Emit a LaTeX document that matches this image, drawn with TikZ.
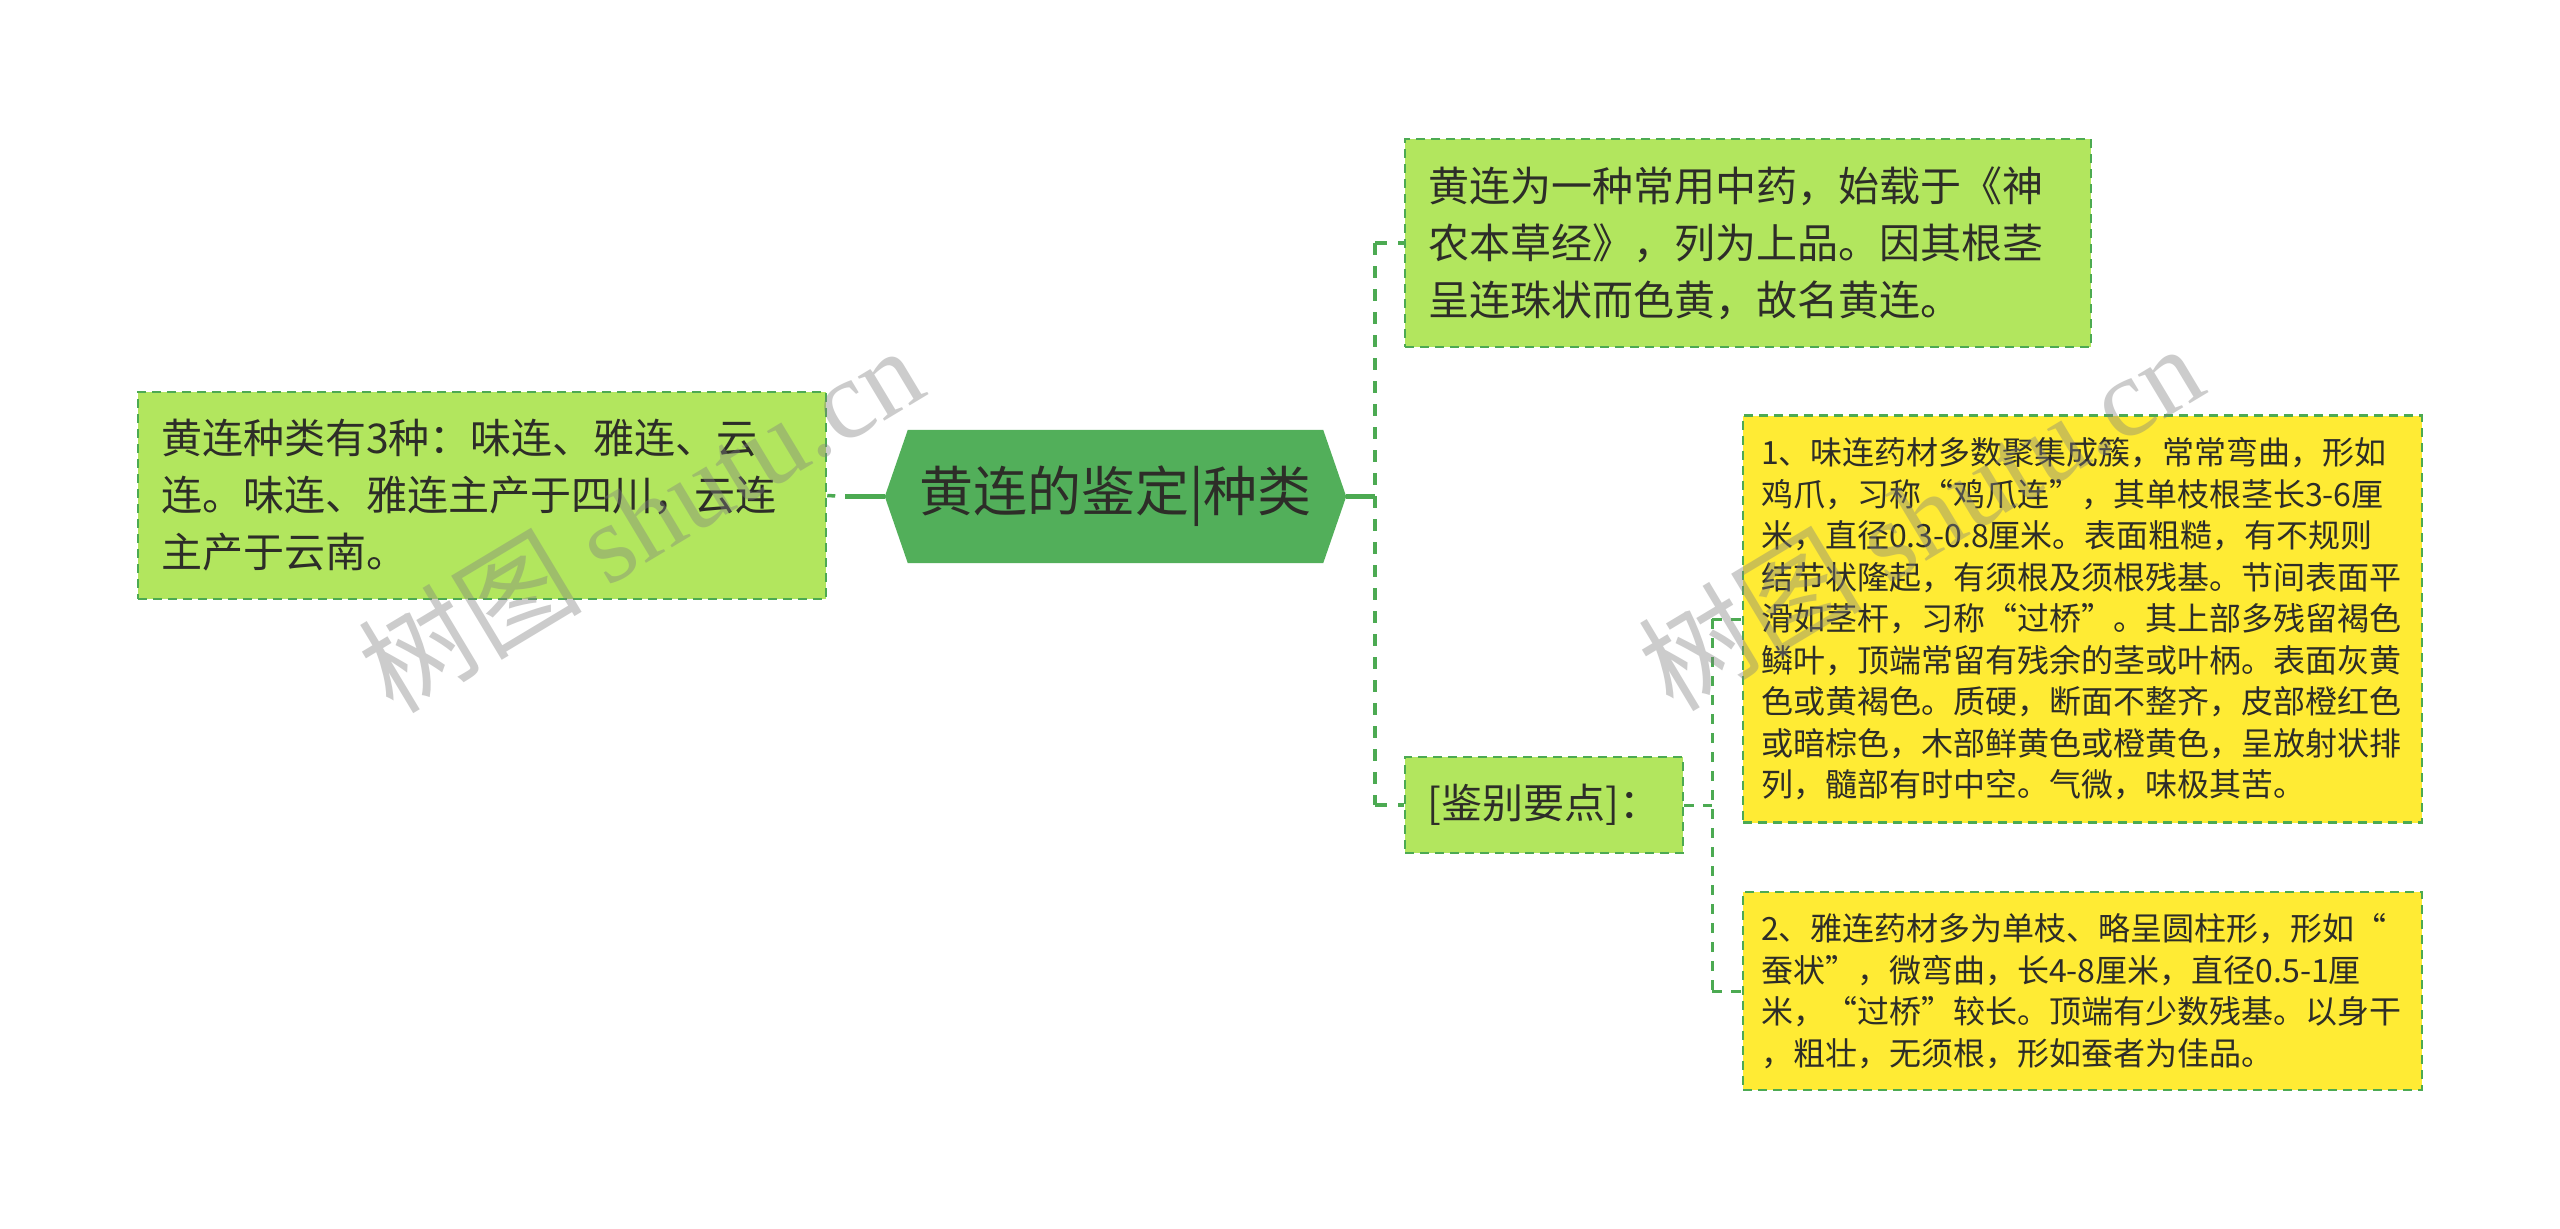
\documentclass[tikz,border=0pt]{standalone}
\usepackage{fontspec}
\setmainfont{Noto Sans CJK SC}
\newfontfamily\wmlatin{Liberation Serif}
\usetikzlibrary{calc,backgrounds}
\definecolor{boxgreen}{RGB}{178,230,94}
\definecolor{boxyellow}{RGB}{255,235,52}
\definecolor{lineg}{RGB}{76,170,82}
\definecolor{hexgreen}{RGB}{82,175,90}
\definecolor{txt}{RGB}{45,45,40}
\tikzset{
  gbox/.style={draw=lineg, line width=2.5pt, dash pattern=on 9pt off 6pt, fill=boxgreen,
    text=txt, inner xsep=23pt, inner ysep=0pt, align=left, anchor=center,
    font=\fontsize{41}{57}\selectfont},
  ybox/.style={draw=lineg, line width=2.5pt, dash pattern=on 9pt off 6pt, fill=boxyellow,
    text=txt, inner xsep=18pt, inner ysep=0pt, align=left, anchor=center,
    font=\fontsize{32}{41.5}\selectfont},
  rootline/.style={draw=lineg, line width=4.5pt},
  rootdash/.style={draw=lineg, line width=3.5pt, dash pattern=on 12pt off 11pt},
  subdash/.style={draw=lineg, line width=3pt, dash pattern=on 10pt off 9pt},
  wm/.style={text=black!50, text opacity=0.4, inner sep=0pt, font=\fontsize{112}{120}\selectfont}
}
\begin{document}
\begin{tikzpicture}[x=1pt,y=-1pt]
\useasboundingbox (0,0) rectangle (2560,1229);

% root
\node[minimum width=461pt, minimum height=133pt, inner sep=0pt, text=txt,
      font=\fontsize{54}{60}\selectfont] (root) at (1115.5,496.5) {黄连的鉴定|种类};
\begin{scope}[on background layer]
\fill[white] (0,0) rectangle (2560,1229);
\fill[hexgreen] (root.west) -- ($(root.north west)+(23,0)$) -- ($(root.north east)+(-23,0)$)
  -- (root.east) -- ($(root.south east)+(-23,0)$) -- ($(root.south west)+(23,0)$) -- cycle;
\end{scope}

% first level
\node[gbox, text width=642pt, minimum width=688pt, minimum height=207pt] (left) at (482,495.5)
 {黄连种类有3种：味连、雅连、云\\连。味连、雅连主产于四川，云连\\主产于云南。};
\node[gbox, text width=640pt, minimum width=686pt, minimum height=208pt] (top) at (1748,243)
 {黄连为一种常用中药，始载于《神\\农本草经》，列为上品。因其根茎\\呈连珠状而色黄，故名黄连。};
\node[gbox, align=center, inner xsep=4pt, minimum width=278pt, minimum height=96pt] (jb) at (1544,805)
 {[鉴别要点]：};

% second level
\node[ybox, text width=643pt, minimum width=679pt, minimum height=407pt] (y1) at (2082.5,619)
 {1、味连药材多数聚集成簇，常常弯曲，形如\\鸡爪，习称“鸡爪连”，其单枝根茎长3-6厘\\米，直径0.3-0.8厘米。表面粗糙，有不规则\\结节状隆起，有须根及须根残基。节间表面平\\滑如茎杆，习称“过桥”。其上部多残留褐色\\鳞叶，顶端常留有残余的茎或叶柄。表面灰黄\\色或黄褐色。质硬，断面不整齐，皮部橙红色\\或暗棕色，木部鲜黄色或橙黄色，呈放射状排\\列，髓部有时中空。气微，味极其苦。};
\node[ybox, text width=643pt, minimum width=679pt, minimum height=198pt] (y2) at (2082.5,991)
 {2、雅连药材多为单枝、略呈圆柱形，形如“\\蚕状”，微弯曲，长4-8厘米，直径0.5-1厘\\米，“过桥”较长。顶端有少数残基。以身干\\，粗壮，无须根，形如蚕者为佳品。};

% connectors
\coordinate (lj) at (845,496.5);
\draw[rootline] (root.west) -- (lj);
\draw[rootdash, dash pattern=on 8pt off 12pt] (left.east) -- (lj);
\coordinate (rj) at (1375,496.5);
\coordinate (rt) at (1375,243);
\coordinate (rb) at (1375,805);
\draw[rootline] (root.east) -- (rj);
\draw[rootdash] (rt) -- (rb);
\draw[rootdash] (rt) -- (top.west);
\draw[rootdash] (rb) -- (jb.west);
\coordinate (sj) at (1712,805);
\coordinate (st) at (1712,619);
\coordinate (sb) at (1712,991);
\draw[subdash] (jb.east) -- (sj);
\draw[subdash] (st) -- (sb);
\draw[subdash] (st) -- (y1.west);
\draw[subdash] (sb) -- (y2.west);

% watermarks
\node[wm, rotate=31] (wm1) at (640,518) {树图 {\wmlatin shutu.cn}};
\node[wm, rotate=31] (wm2) at (1920,516) {树图 {\wmlatin shutu.cn}};
\end{tikzpicture}
\end{document}
